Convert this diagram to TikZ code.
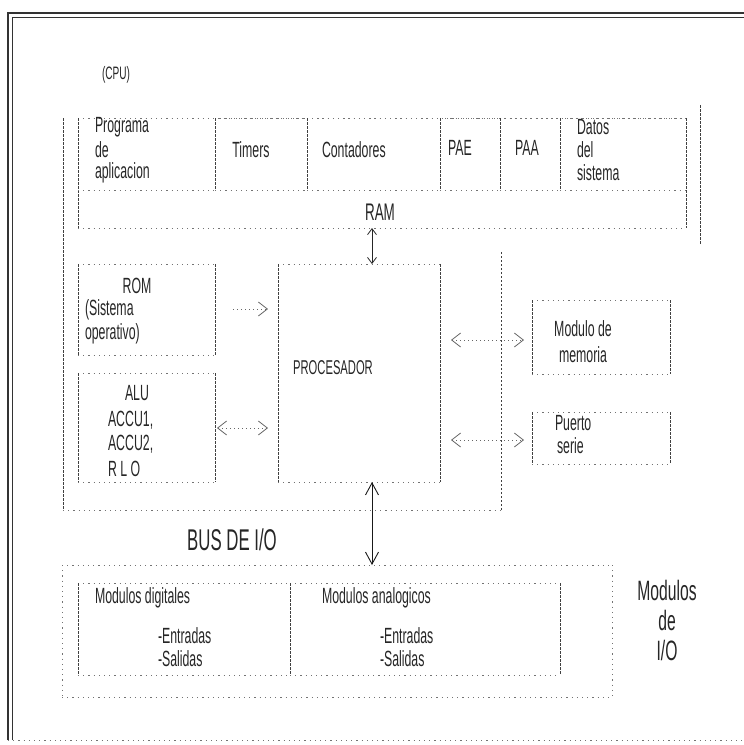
\documentclass[tikz,border=0pt]{standalone}
\usepackage{fontspec}
\setmainfont{Liberation Sans}[FakeStretch=0.56]
\usetikzlibrary{arrows.meta}
\begin{document}
\begin{tikzpicture}[x=1pt,y=-1pt,
  every node/.style={inner sep=0pt,outer sep=0pt,text=black!85},
  bx/.style={draw=none,rectangle},
  hl/.style={draw=black!55,line width=0.9pt,dash pattern=on 1.2pt off 4pt},
  vl/.style={draw=black!75,line width=0.9pt,dash pattern=on 2.5pt off 1.5pt},
  fr/.style={draw=black!80,line width=1.1pt},
  tx/.style={font=\fontsize{22}{24}\selectfont},
  txs/.style={font=\fontsize{18}{20}\selectfont},
  txp/.style={font=\fontsize{20}{22}\selectfont},
  txb/.style={font=\fontsize{30}{32}\selectfont},
  txm/.style={font=\fontsize{28}{30}\selectfont},
  txr/.style={font=\fontsize{24}{26}\selectfont},
  varr/.style={draw=black!85,line width=0.8pt,{Straight Barb[length=6pt,width=9pt]}-{Straight Barb[length=6pt,width=9pt]}},
  barr/.style={draw=black!90,line width=0.9pt,{Straight Barb[length=12pt,width=13pt]}-{Straight Barb[length=12pt,width=13pt]}},
  harr/.style={draw=black!60,line width=0.8pt,dash pattern=on 1pt off 3pt}
]
\useasboundingbox (0,0) rectangle (744,745);

% frame
\draw[fr] (8,740) -- (8,13) -- (744,13);
\draw[fr,line width=0.8pt] (12,740) -- (12,17) -- (744,17);
\draw[hl] (8,740) -- (744,740);

\newcommand{\scanbox}[1]{%
  \draw[hl] (#1.north west) -- (#1.north east) (#1.south west) -- (#1.south east);
  \draw[vl] (#1.north west) -- (#1.south west) (#1.north east) -- (#1.south east);}

% CPU outline
\draw[vl] (63,118) -- (63,510);
\draw[hl] (63,510) -- (501,510);
\draw[vl] (501,510) -- (501,250);
\draw[vl] (700,105) -- (700,245);
\node[txs] (cpu) at (116,75) {(CPU)};

% RAM
\node[bx,minimum width=608,minimum height=110] (ram) at (382,173) {};
\scanbox{ram}
\node[bx,minimum width=137,minimum height=72] (prog) at (146.5,154) {};
\node[bx,minimum width=92,minimum height=72] (tim) at (261,154) {};
\node[bx,minimum width=133,minimum height=72] (cont) at (373.5,154) {};
\node[bx,minimum width=60,minimum height=72] (pae) at (470,154) {};
\node[bx,minimum width=60,minimum height=72] (paa) at (530,154) {};
\node[bx,minimum width=126,minimum height=72] (dat) at (623,154) {};
\scanbox{prog}\scanbox{tim}\scanbox{cont}\scanbox{pae}\scanbox{paa}\scanbox{dat}

\node[tx,anchor=west] (p1) at (95,127) {Programa};
\node[tx,anchor=west] (p2) at (95,150) {de};
\node[tx,anchor=west] (p3) at (95,173) {aplicacion};
\node[tx] (t1) at (251,150) {Timers};
\node[tx,anchor=west] (c1) at (322,150) {Contadores};
\node[tx] (e1) at (460,148) {PAE};
\node[tx] (a1) at (527,148) {PAA};
\node[tx,anchor=west] (d1) at (577,127) {Datos};
\node[tx,anchor=west] (d2) at (577,150) {del};
\node[tx,anchor=west] (d3) at (577,173) {sistema};
\node[txr] (ramt) at (380,212) {RAM};

% left column
\node[bx,minimum width=137,minimum height=91] (rom) at (146.5,309.5) {};
\node[bx,minimum width=137,minimum height=109] (alu) at (146.5,427.5) {};
\scanbox{rom}\scanbox{alu}
\node[tx] (r1) at (137,286) {ROM};
\node[tx,anchor=west] (r2) at (85,310) {(Sistema};
\node[tx,anchor=west] (r3) at (85,334) {operativo)};
\node[tx] (l1) at (137,393) {ALU};
\node[tx,anchor=west] (l2) at (108,420) {ACCU1,};
\node[tx,anchor=west] (l3) at (108,444) {ACCU2,};
\node[tx,anchor=west] (l4) at (108,469) {R L O};

% processor
\node[bx,minimum width=162,minimum height=218] (proc) at (359,373) {};
\scanbox{proc}
\node[txp] (pt) at (333,368) {PROCESADOR};

% right modules
\node[bx,minimum width=138,minimum height=74] (mem) at (601,337) {};
\node[bx,minimum width=138,minimum height=52] (ps) at (601,438) {};
\scanbox{mem}\scanbox{ps}
\node[tx] (m1) at (583,329) {Modulo de};
\node[tx] (m2) at (583,355) {memoria};
\node[tx,anchor=west] (s1) at (555,423) {Puerto};
\node[tx,anchor=west] (s2) at (557,446) {serie};

% I/O section
\node[bx,minimum width=550,minimum height=132] (io) at (337,631) {};
\draw[hl] (io.north west) -- (io.north east) (io.south west) -- (io.south east);
\draw[hl] (io.north west) -- (io.south west) (io.north east) -- (io.south east);
\node[bx,minimum width=212,minimum height=92] (dig) at (184,629) {};
\node[bx,minimum width=270,minimum height=92] (ana) at (425,629) {};
\scanbox{dig}\scanbox{ana}
\node[tx,anchor=west] (g1) at (95,598) {Modulos digitales};
\node[tx,anchor=west] (g2) at (158,636) {-Entradas};
\node[tx,anchor=west] (g3) at (158,659) {-Salidas};
\node[tx,anchor=west] (n1) at (322,598) {Modulos analogicos};
\node[tx,anchor=west] (n2) at (380,636) {-Entradas};
\node[tx,anchor=west] (n3) at (380,659) {-Salidas};
\node[txm] (q1) at (667,590) {Modulos};
\node[txm] (q2) at (667,620) {de};
\node[txm] (q3) at (667,650) {I/O};
\node[txb] (bus) at (232,540) {BUS DE I/O};

% connectors
\coordinate (ax) at (372,0);
\draw[varr] (ram.south -| ax) -- (proc.north -| ax);
\draw[barr] (proc.south -| ax) -- (io.north -| ax);
\coordinate (y1) at (0,309);
\coordinate (y2) at (0,428);
\coordinate (y3) at (0,340);
\coordinate (y4) at (0,440);
\draw[harr,-{Straight Barb[length=9pt,width=14pt]},shorten <=18pt,shorten >=10pt] (rom.east |- y1) -- (proc.west |- y1);
\draw[harr,{Straight Barb[length=9pt,width=14pt]}-{Straight Barb[length=9pt,width=14pt]},shorten <=2pt,shorten >=10pt] (alu.east |- y2) -- (proc.west |- y2);
\draw[harr,{Straight Barb[length=9pt,width=14pt]}-{Straight Barb[length=9pt,width=14pt]},shorten <=11pt,shorten >=8pt] (proc.east |- y3) -- (mem.west |- y3);
\draw[harr,{Straight Barb[length=9pt,width=14pt]}-{Straight Barb[length=9pt,width=14pt]},shorten <=11pt,shorten >=8pt] (proc.east |- y4) -- (ps.west |- y4);
\end{tikzpicture}
\end{document}
